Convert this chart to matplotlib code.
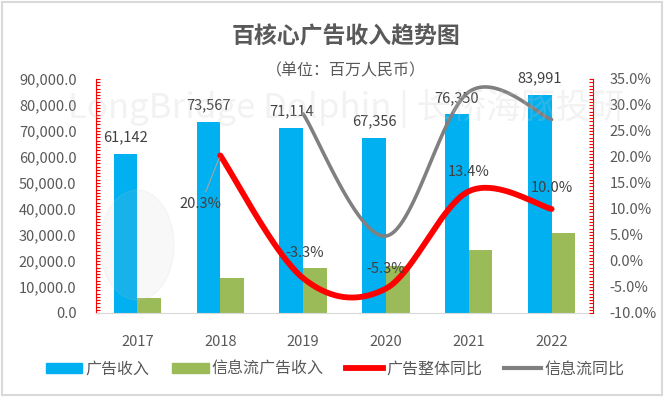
import numpy as np
import matplotlib
matplotlib.use('Agg')
import matplotlib.pyplot as plt
from matplotlib.ticker import MultipleLocator, FuncFormatter
from matplotlib.patches import Patch, Rectangle, Ellipse
from matplotlib.lines import Line2D

plt.rcParams['font.family'] = ['Noto Sans CJK SC', 'DejaVu Sans']

# data
years = ['2017', '2018', '2019', '2020', '2021', '2022']
ad_revenue = [61142, 73567, 71114, 67356, 76350, 83991]
feed_revenue = [5700, 13400, 17200, 18000, 24100, 30600]
ad_yoy = [np.nan, 20.3, -3.3, -5.3, 13.4, 10.0]
feed_yoy = [np.nan, np.nan, 28.3, 4.8, 32.5, 27.2]

BLUE = '#00B0F0'
GREEN = '#9BBB59'
RED = '#FF0000'
GRAY = '#808080'
TXT = '#595959'


def smooth(xs, ys, sx=82.8, sy=5.2, n=40):
    # excel style smoothed line (bezier through the points)
    xs = np.asarray(xs, float)
    ys = np.asarray(ys, float)
    m = ~np.isnan(ys)
    P = np.column_stack([xs[m] * sx, ys[m] * sy])
    t = np.linspace(0, 1, n)[:, None]
    segs = []
    for i in range(len(P) - 1):
        p0, p3 = P[i], P[i + 1]
        prev = P[i - 1] if i > 0 else P[i]
        nxt = P[i + 2] if i + 2 < len(P) else P[i + 1]
        c1 = p0 + (p3 - prev) / 6
        c2 = p3 - (nxt - p0) / 6
        b = (1 - t) ** 3 * p0 + 3 * (1 - t) ** 2 * t * c1 + 3 * (1 - t) * t ** 2 * c2 + t ** 3 * p3
        segs.append(b)
    B = np.vstack(segs)
    return B[:, 0] / sx, B[:, 1] / sy


fig = plt.figure(figsize=(6.64, 3.97), dpi=100)
ax = fig.add_axes([96 / 664, 1 - 313 / 397, 497 / 664, 234 / 397])
x = np.arange(len(years))
w = 0.285

ax.bar(x - w / 2, ad_revenue, w, color=BLUE, zorder=2)
ax.bar(x + w / 2, feed_revenue, w, color=GREEN, zorder=2)
for xi, v in zip(x, ad_revenue):
    ax.annotate(f'{v:,}', (xi - w / 2, v), xytext=(0, 12), textcoords='offset points',
                ha='center', va='center', fontsize=10.5, color='#404040', zorder=5)

ax.set_xlim(-0.5, len(years) - 0.5)
ax.set_ylim(0, 90000)
ax.set_xticks(x)
ax.set_xticklabels(years)
ax.yaxis.set_major_locator(MultipleLocator(10000))
ax.yaxis.set_minor_locator(MultipleLocator(1250))
ax.yaxis.set_major_formatter(FuncFormatter(lambda v, p: f'{v:,.1f}'))
ax.tick_params(axis='y', which='both', colors=RED, labelcolor=TXT, direction='in',
               length=3, width=0.8, labelsize=10.5, pad=14)
ax.tick_params(axis='x', length=0, labelcolor=TXT, labelsize=10.5, pad=16)
for s in ['top', 'right']:
    ax.spines[s].set_visible(False)
ax.spines['left'].set_color(RED)
ax.spines['bottom'].set_color('#d9d9d9')

ax2 = ax.twinx()
ax2.set_ylim(-10, 35)
ax2.yaxis.set_major_locator(MultipleLocator(5))
ax2.yaxis.set_minor_locator(MultipleLocator(0.625))
ax2.yaxis.set_major_formatter(FuncFormatter(lambda v, p: f'{v:.1f}%'))
ax2.tick_params(axis='y', which='both', colors=RED, labelcolor=TXT, direction='in',
                length=3, width=0.8, labelsize=10.5, pad=12)
for s in ['top', 'left', 'bottom']:
    ax2.spines[s].set_visible(False)
ax2.spines['right'].set_color(RED)

gx, gy = smooth(x, feed_yoy)
ax2.plot(gx, gy, color=GRAY, lw=2.6, solid_capstyle='round', zorder=3)
rx, ry = smooth(x, ad_yoy)
ax2.plot(rx, ry, color=RED, lw=4.2, solid_capstyle='round', zorder=4)

offsets = [None, (-14, -35), (1, 18), (0, 14), (0, 14), (0, 15)]
for xi, v, off in zip(x, ad_yoy, offsets):
    if off is None:
        continue
    arrow = dict(arrowstyle='-', color='#a6a6a6', lw=0.8) if xi == 1 else None
    ax2.annotate(f'{v:.1f}%', (xi, v), xytext=off, textcoords='offset points',
                 ha='center', va='center', fontsize=10.5, color='#404040',
                 arrowprops=arrow, zorder=6)

# watermark
fig.text(346 / 664, 1 - 108 / 397, 'LongBridge Dolphin | 长桥海豚投研', ha='center', va='center',
         fontsize=25, color='#c8c8c8', alpha=0.22, zorder=10)
fig.add_artist(Ellipse((137 / 664, 1 - 245 / 397), 74 / 664, 110 / 397,
                       color='#c8c8c8', alpha=0.12, zorder=10))

fig.text(346 / 664, 1 - 37 / 397, '百核心广告收入趋势图', ha='center', va='center',
         fontsize=16.5, fontweight='bold', color=TXT)
fig.text(346 / 664, 1 - 71 / 397, '（单位：百万人民币）', ha='center', va='center',
         fontsize=11.5, color=TXT)

handles = [Patch(color=BLUE), Patch(color=GREEN),
           Line2D([], [], color=RED, lw=4.2), Line2D([], [], color=GRAY, lw=3)]
labels = ['广告收入', '信息流广告收入', '广告整体同比', '信息流同比']
fig.legend(handles, labels, loc='center', bbox_to_anchor=(335 / 664, 1 - 369 / 397), ncol=4,
           frameon=False, fontsize=11.5, labelcolor=TXT, handlelength=2.3, handleheight=0.6,
           handletextpad=0.2, columnspacing=1.4)

fig.add_artist(Rectangle((0.003, 0.004), 0.994, 0.99, transform=fig.transFigure,
                         fill=False, ec='#d9d9d9', lw=1.5))

fig.savefig('out.png', dpi=100)
